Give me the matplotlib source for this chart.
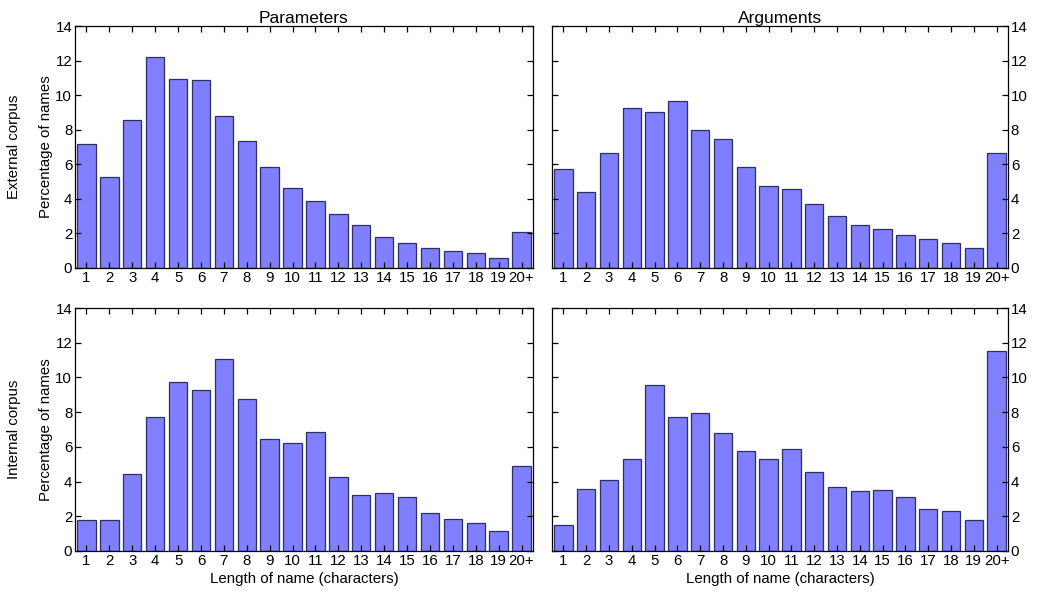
import matplotlib
matplotlib.use("Agg")
import matplotlib.pyplot as plt
import numpy as np

plt.rcParams["font.family"] = ["Liberation Sans", "DejaVu Sans"]

# ── Data ───────────────────────────────────────────────────────────────────
LENGTHS = [str(i) for i in range(1, 20)] + ["20+"]

ext_params = [7.2, 5.25, 8.55, 12.2, 10.95, 10.85, 8.8, 7.35, 5.85, 4.6,
              3.85, 3.12, 2.47, 1.82, 1.45, 1.18, 0.97, 0.84, 0.57, 2.06]
ext_args   = [5.75, 4.4, 6.63, 9.28, 9.0, 9.66, 8.0, 7.48, 5.86, 4.76,
              4.59, 3.72, 3.01, 2.51, 2.24, 1.91, 1.68, 1.45, 1.16, 6.63]
int_params = [1.79, 1.81, 4.45, 7.74, 9.72, 9.3, 11.05, 8.74, 6.47, 6.22,
              6.87, 4.26, 3.25, 3.37, 3.12, 2.21, 1.83, 1.64, 1.14, 4.89]
int_args   = [1.5, 3.56, 4.1, 5.3, 9.59, 7.74, 7.95, 6.78, 5.76, 5.31,
              5.87, 4.54, 3.68, 3.45, 3.5, 3.1, 2.41, 2.33, 1.79, 11.55]

COL_TITLES = ["Parameters", "Arguments"]
ROW_LABELS = ["External corpus", "Internal corpus"]
panels     = [[ext_params, ext_args], [int_params, int_args]]

BAR_COLOR  = "#7f7fff"
EDGE_COLOR = "#2e2e66"

# ── Figure ─────────────────────────────────────────────────────────────────
fig = plt.figure(figsize=(10.4, 5.92), dpi=100)
W, H = 1040, 592
# axes boxes in pixel coords: (left, top, right, bottom)
boxes = [[(75, 26, 533, 268), (552, 26, 1008, 268)],
         [(75, 308, 533, 551), (552, 308, 1008, 551)]]

x = np.arange(1, len(LENGTHS) + 1)

for ri in range(2):
    for ci in range(2):
        l, t, r, b = boxes[ri][ci]
        ax = fig.add_axes([l / W, 1 - b / H, (r - l) / W, (b - t) / H])
        ax.bar(x, panels[ri][ci], width=0.8, color=BAR_COLOR,
               edgecolor=EDGE_COLOR, linewidth=0.9)
        ax.set_xlim(0.5, len(LENGTHS) + 0.5)
        ax.set_ylim(0, 14)
        ax.set_xticks(x)
        ax.set_xticklabels(LENGTHS)
        ax.set_yticks(np.arange(0, 15, 2))
        ax.tick_params(direction="in", length=4, width=0.9, labelsize=10.8,
                       top=True, right=True, pad=2)
        if ci == 1:
            ax.tick_params(labelleft=False, labelright=True)
        else:
            ax.set_ylabel("Percentage of names", fontsize=10.8, labelpad=2)
            fig.text(14 / W, 1 - ((t + b) / 2) / H, ROW_LABELS[ri],
                     rotation=90, ha="center", va="center", fontsize=10.8)
        if ri == 0:
            ax.set_title(COL_TITLES[ci], fontsize=12.5, pad=2)
        else:
            ax.set_xlabel("Length of name (characters)", fontsize=10.8, labelpad=3)
        for s in ax.spines.values():
            s.set_linewidth(0.9)

fig.savefig("out.png", dpi=100)
